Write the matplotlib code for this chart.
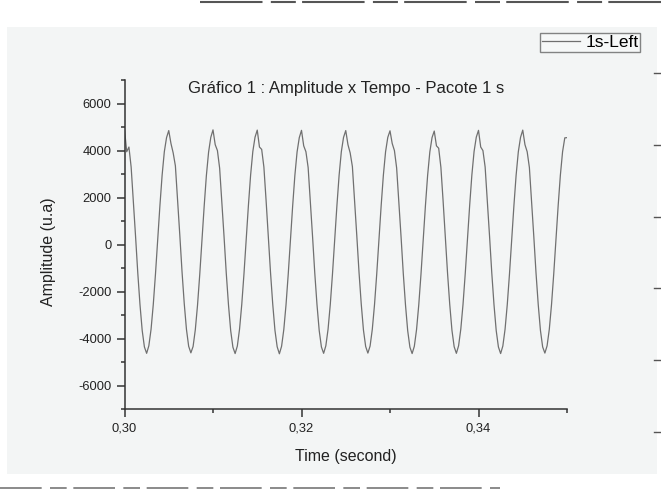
import numpy as np
import matplotlib
matplotlib.use('Agg')
import matplotlib.pyplot as plt
from matplotlib.ticker import MultipleLocator, FuncFormatter
from matplotlib.patches import Rectangle
from matplotlib.lines import Line2D

# sampled signal: start time, sample step (s) and amplitude read per sample
t_start = 0.300
t_step = 0.00025
amplitude = [
    4900, 3950, 4150, 3300, 1850, 350, -1200, -2550, -3650, -4350, -4620, -4300, -3600, -2550, -1250, 200, 1650, 2950, 3950, 4550,
    4850, 4300, 3900, 3350, 1900, 400, -1150, -2500, -3600, -4320, -4600, -4330, -3620, -2580, -1280, 180, 1620, 2930, 3930, 4560,
    4880, 4250, 4000, 3250, 1820, 330, -1220, -2560, -3660, -4360, -4630, -4310, -3590, -2540, -1240, 210, 1660, 2960, 3960, 4570,
    4870, 4150, 4050, 3300, 1870, 360, -1190, -2530, -3640, -4340, -4640, -4320, -3610, -2560, -1260, 190, 1640, 2940, 3940, 4550,
    4860, 4200, 3950, 3280, 1840, 340, -1210, -2550, -3650, -4350, -4620, -4300, -3600, -2550, -1250, 200, 1650, 2950, 3950, 4560,
    4850, 4250, 3900, 3320, 1880, 370, -1180, -2520, -3630, -4330, -4610, -4310, -3600, -2550, -1250, 200, 1650, 2950, 3950, 4560,
    4840, 4300, 4000, 3260, 1830, 330, -1220, -2560, -3660, -4360, -4630, -4320, -3610, -2560, -1260, 190, 1640, 2940, 3940, 4550,
    4830, 4200, 4100, 3290, 1860, 350, -1200, -2540, -3640, -4340, -4620, -4300, -3590, -2540, -1240, 210, 1660, 2960, 3960, 4570,
    4860, 4150, 4000, 3300, 1850, 350, -1200, -2550, -3650, -4350, -4630, -4310, -3600, -2550, -1250, 200, 1650, 2950, 3950, 4560,
    4870, 4250, 3950, 3280, 1840, 340, -1210, -2550, -3650, -4350, -4610, -4300, -3600, -2550, -1250, 200, 1650, 2950, 3950, 4540,
    4550,
]
series_label = '1s-Left'
title = 'Gráfico 1 : Amplitude x Tempo - Pacote 1 s'
x_label = 'Time (second)'
y_label = 'Amplitude (u.a)'

t = t_start + t_step * np.arange(len(amplitude))

plt.rcParams['font.family'] = ['Liberation Sans', 'DejaVu Sans']
plt.rcParams['axes.unicode_minus'] = False

W, H = 661, 496
fig = plt.figure(figsize=(W / 100, H / 100), dpi=100)
fig.patch.set_facecolor('white')


def fx(px):
    return px / W


def fy(py):
    return 1 - py / H


# scanned page background
fig.patches.append(Rectangle((fx(7), fy(474)), fx(657) - fx(7), fy(27) - fy(474),
                             transform=fig.transFigure, facecolor='#f3f5f5',
                             edgecolor='none', zorder=-5))

ax = fig.add_axes([fx(124.5), fy(409.3), fx(567) - fx(124.5), fy(80) - fy(409.3)])
ax.set_facecolor('none')
ax.plot(t, amplitude, color='#707070', lw=0.9, label=series_label)

ax.set_xlim(0.30, 0.35)
ax.set_ylim(-7000, 7000)
for s in ['top', 'right']:
    ax.spines[s].set_visible(False)
for s in ['left', 'bottom']:
    ax.spines[s].set_linewidth(1.1)
    ax.spines[s].set_color('#333333')

ax.xaxis.set_major_locator(MultipleLocator(0.02))
ax.xaxis.set_minor_locator(MultipleLocator(0.01))
ax.yaxis.set_major_locator(MultipleLocator(2000))
ax.yaxis.set_minor_locator(MultipleLocator(1000))
ax.xaxis.set_major_formatter(FuncFormatter(lambda v, p: ('%.2f' % v).replace('.', ',')))
ax.yaxis.set_major_formatter(FuncFormatter(lambda v, p: '%d' % v))
ax.tick_params(which='major', direction='out', length=5.5, width=1.1, color='#333333',
               labelsize=9.25, labelcolor='#222222', pad=4)
ax.tick_params(which='minor', direction='out', length=3, width=1.1, color='#333333')

ax.set_xlabel(x_label, fontsize=11.5, color='#222222')
ax.set_ylabel(y_label, fontsize=11.5, color='#222222')
ax.xaxis.set_label_coords(0.5, -(457 - 409.3) / (409.3 - 80), transform=ax.transAxes)
ax.yaxis.set_label_coords((49 - 124.5) / (567 - 124.5), (409.3 - 252) / (409.3 - 80),
                          transform=ax.transAxes)
ax.xaxis.label.set_va('center')
ax.yaxis.label.set_va('center')

fig.text(fx(346), fy(88), title, ha='center', va='center', fontsize=12, color='#222222')

leg = fig.legend(loc='upper right', bbox_to_anchor=(fx(640), fy(33)), fontsize=12.5,
                 handlelength=2.2, frameon=True, fancybox=False, borderpad=0.1,
                 borderaxespad=0, handletextpad=0.3)
leg.get_frame().set_edgecolor('#666666')
leg.get_frame().set_facecolor('#f8f9f9')
leg.get_frame().set_linewidth(1.0)

# leftover right-axis ticks of the scanned page
for py in [73, 145, 217, 288, 360, 432]:
    fig.add_artist(Line2D([fx(654), fx(660)], [fy(py), fy(py)], transform=fig.transFigure,
                          color='#555555', lw=1.0))

# scan streaks at top and bottom edges
fig.add_artist(Line2D([fx(200), fx(661)], [fy(2), fy(2)], transform=fig.transFigure,
                      color='#555555', lw=1.5, dashes=(30, 4, 12, 3)))
fig.add_artist(Line2D([fx(0), fx(500)], [fy(488), fy(488)], transform=fig.transFigure,
                      color='#777777', lw=1.2, dashes=(25, 5, 10, 4)))

fig.savefig('out.png', dpi=100, facecolor=fig.get_facecolor())
